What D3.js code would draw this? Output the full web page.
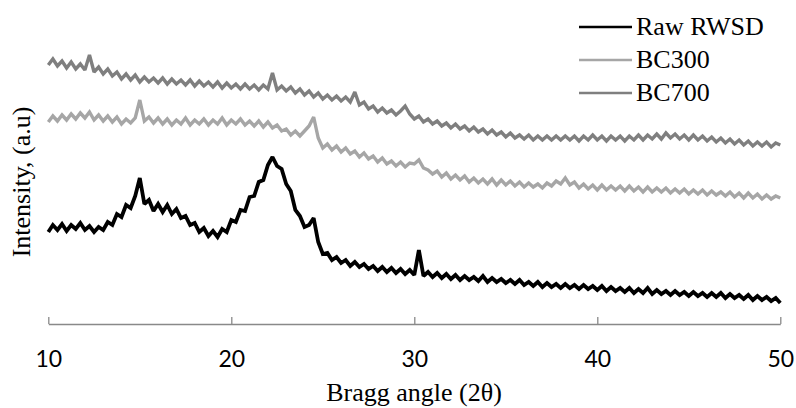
<!DOCTYPE html>
<html>
<head>
<meta charset="utf-8">
<script src="https://cdn.jsdelivr.net/npm/d3@7"></script>
<style>
  html, body { margin: 0; padding: 0; background: #ffffff; }
  svg { display: block; }
</style>
</head>
<body>
<svg id="chart" width="796" height="408"></svg>
<script>
// Bragg angle (2θ) sample positions
const angles = [
  10,10.25,10.5,10.75,11,11.25,11.5,11.75,12,12.25,12.5,12.75,13,13.25,13.5,13.75,14,14.25,14.5,14.75,
  15,15.25,15.5,15.75,16,16.25,16.5,16.75,17,17.25,17.5,17.75,18,18.25,18.5,18.75,19,19.25,19.5,19.75,
  20,20.25,20.5,20.75,21,21.25,21.5,21.75,22,22.25,22.5,22.75,23,23.25,23.5,23.75,24,24.25,24.5,24.75,
  25,25.25,25.5,25.75,26,26.25,26.5,26.75,27,27.25,27.5,27.75,28,28.25,28.5,28.75,29,29.25,29.5,29.75,
  30,30.25,30.5,30.75,31,31.25,31.5,31.75,32,32.25,32.5,32.75,33,33.25,33.5,33.75,34,34.25,34.5,34.75,
  35,35.25,35.5,35.75,36,36.25,36.5,36.75,37,37.25,37.5,37.75,38,38.25,38.5,38.75,39,39.25,39.5,39.75,
  40,40.25,40.5,40.75,41,41.25,41.5,41.75,42,42.25,42.5,42.75,43,43.25,43.5,43.75,44,44.25,44.5,44.75,
  45,45.25,45.5,45.75,46,46.25,46.5,46.75,47,47.25,47.5,47.75,48,48.25,48.5,48.75,49,49.25,49.5,49.75,
  50
];

// Intensities (a.u.)
const rawRWSD = [
  92,99,94,100,93,99,95,101,94,98,92,97,94,102,99,110,107,119,116,128,
  146,120,124,113,120,112,119,110,115,106,108,99,101,92,96,88,93,87,95,92,
  104,102,114,113,127,128,142,144,159,167,158,155,140,133,114,108,97,99,106,82,
  70,71,64,67,61,64,58,62,57,60,55,58,53,57,52,56,51,55,50,54,
  49,74,48,52,47,51,46,50,45,49,44,48,44,47,43,48,42,46,42,45,
  41,44,40,44,39,42,38,42,37,41,37,40,36,40,36,39,35,39,35,38,
  34,38,33,37,33,36,32,36,31,35,31,36,30,34,30,33,29,33,29,32,
  28,32,28,31,27,31,27,31,26,30,26,29,25,29,24,28,24,27,23,26,
  21
];
const bc300 = [
  202,208,203,209,204,210,205,211,206,212,204,209,203,208,202,207,200,205,201,206,
  224,203,207,201,206,200,205,199,204,200,206,199,204,200,205,199,204,200,206,199,
  204,200,205,199,203,198,203,197,202,196,199,193,195,189,193,188,193,198,207,186,
  176,180,174,178,172,176,170,173,167,171,165,168,162,166,160,163,158,162,157,161,
  160,164,156,154,150,153,147,151,145,149,144,148,142,146,141,145,140,145,139,144,
  139,143,138,142,137,141,137,140,136,141,138,143,140,146,139,142,136,140,135,139,
  134,139,134,138,134,138,133,138,133,137,132,137,132,136,132,136,131,135,131,135,
  130,134,130,134,129,133,129,132,128,132,127,131,126,131,126,130,125,129,125,128,
  126
];
const bc700 = [
  259,265,258,263,256,262,255,260,254,269,252,257,250,255,248,252,245,250,244,249,
  242,247,242,246,241,246,240,245,240,244,239,244,238,243,238,242,237,242,236,241,
  236,240,235,240,235,239,234,239,235,251,234,238,233,237,231,235,229,233,227,231,
  225,229,224,228,223,227,222,232,219,222,215,218,212,216,211,214,209,213,218,210,
  205,208,202,205,200,203,198,201,196,200,195,198,193,197,192,195,190,194,189,192,
  187,191,186,189,185,189,184,188,184,188,184,188,184,188,184,188,183,188,184,189,
  184,188,183,188,184,188,183,188,184,189,184,189,185,190,185,191,186,190,185,189,
  184,189,184,188,183,187,182,186,181,185,180,184,179,183,178,182,178,182,177,181,
  179
];

const seriesNames = ["Raw RWSD", "BC300", "BC700"];
const seriesValues = [rawRWSD, bc300, bc700];
const seriesColors = ["#000000", "#a6a6a6", "#7f7f7f"];
const seriesWidths = [3.8, 3.4, 3.4];
const xTicks = [10, 20, 30, 40, 50];
const xTitle = "Bragg angle (2θ)";
const yTitle = "Intensity, (a.u)";

const svg = d3.select("#chart");
const x = d3.scaleLinear().domain([10, 50]).range([48.3, 780.3]);
const y = d3.scaleLinear().domain([0, 300]).range([324, 24]);

// x axis (ticks pointing up, Excel "inside")
const axis = d3.axisBottom(x).tickValues(xTicks).tickSize(-7).tickSizeOuter(0).tickFormat(d3.format("d"));
const gx = svg.append("g").attr("transform", "translate(0,324)").call(axis);
gx.select(".domain").attr("stroke", "#898989").attr("stroke-width", 1.3);
gx.selectAll(".tick line").attr("stroke", "#898989").attr("stroke-width", 1.3);
gx.selectAll(".tick text")
  .attr("y", 43).attr("dy", null)
  .attr("fill", "#000")
  .style("font-family", "Lato, 'Open Sans', sans-serif")
  .style("font-size", "23px");

// series
const line = d3.line().x((d, i) => x(angles[i])).y(d => y(d));
// draw BC700, BC300, then raw on top
[2, 1, 0].forEach(k => {
  svg.append("path")
    .datum(seriesValues[k])
    .attr("d", line)
    .attr("fill", "none")
    .attr("stroke", seriesColors[k])
    .attr("stroke-width", seriesWidths[k])
    .attr("stroke-linejoin", "miter")
    .attr("stroke-miterlimit", 2);
});

// legend
const legendBase = [35, 68, 101];
seriesNames.forEach((name, i) => {
  const g = svg.append("g");
  g.append("line")
    .attr("x1", 579).attr("x2", 632)
    .attr("y1", legendBase[i] - 8).attr("y2", legendBase[i] - 8)
    .attr("stroke", seriesColors[i]).attr("stroke-width", 2.6);
  g.append("text")
    .attr("x", 636).attr("y", legendBase[i])
    .style("font-family", "'Liberation Serif', 'Times New Roman', serif")
    .style("font-size", "26px")
    .attr("fill", "#000")
    .text(name);
});

// axis titles
svg.append("text")
  .attr("x", 414).attr("y", 401)
  .attr("text-anchor", "middle")
  .style("font-family", "'Liberation Serif', 'Times New Roman', serif")
  .style("font-size", "26px")
  .attr("fill", "#000")
  .text(xTitle);

svg.append("text")
  .attr("transform", "translate(30,182) rotate(-90)")
  .attr("text-anchor", "middle")
  .style("font-family", "'Liberation Serif', 'Times New Roman', serif")
  .style("font-size", "26px")
  .attr("fill", "#000")
  .text(yTitle);
</script>
</body>
</html>
